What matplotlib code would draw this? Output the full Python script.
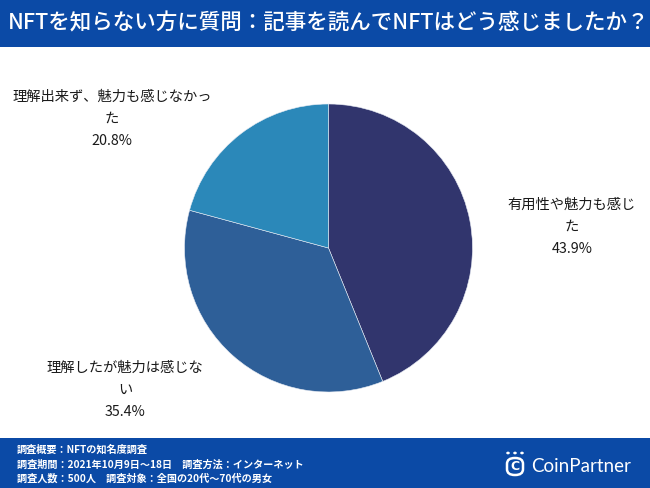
import matplotlib.pyplot as plt
from matplotlib.patches import Rectangle, FancyBboxPatch, Circle

plt.rcParams['font.family'] = ['Noto Sans CJK JP', 'DejaVu Sans']

title = "NFTを知らない方に質問：記事を読んでNFTはどう感じましたか？"
labels = ["有用性や魅力も感じ\nた", "理解したが魅力は感じな\nい", "理解出来ず、魅力も感じなかっ\nた"]
values = [43.9, 35.4, 20.8]
colors = ["#31356d", "#2e5f98", "#2b88b9"]
footer_lines = [
    "調査概要：NFTの知名度調査",
    "調査期間：2021年10月9日～18日　調査方法：インターネット",
    "調査人数：500人　調査対象：全国の20代～70代の男女",
]
banner_color = "#0b4aa6"

W, H = 650, 488
fig = plt.figure(figsize=(W / 100, H / 100), dpi=100)
fig.patch.set_facecolor("white")

# banners
fig.patches.append(Rectangle((0, 1 - 47 / H), 1, 47 / H, transform=fig.transFigure,
                             facecolor=banner_color, edgecolor="none", zorder=0))
fig.patches.append(Rectangle((0, 0), 1, 50 / H, transform=fig.transFigure,
                             facecolor=banner_color, edgecolor="none", zorder=0))
fig.text(8 / W, 1 - 23 / H, title, color="white", fontsize=15.5, fontweight="medium",
         ha="left", va="center")

# pie
cx, cy, r = 328.5, 248, 144
ax = fig.add_axes([(cx - r) / W, (H - cy - r) / H, 2 * r / W, 2 * r / H])
ax.pie(values, colors=colors, startangle=90, counterclock=False,
       wedgeprops=dict(linewidth=0.4, edgecolor="#e8ecf4"))
ax.set_xlim(-1, 1)
ax.set_ylim(-1, 1)
ax.set_aspect("equal")
ax.axis("off")

# data labels (pixel positions of label centres)
label_pos = [(572, 227), (125, 390), (112, 119)]
for lab, val, (lx, ly) in zip(labels, values, label_pos):
    fig.text(lx / W, 1 - ly / H, f"{lab}\n{val:.1f}%", fontsize=10.3, color="#1a1a1a",
             ha="center", va="center", linespacing=1.72, multialignment="center")

# footer text
for i, line in enumerate(footer_lines):
    fig.text(17 / W, (H - 450 - i * 14.5) / H, line, color="white", fontsize=7.3,
             fontweight="bold", ha="left", va="center")

# logo
fig.text(531 / W, (H - 466) / H, "CoinPartner", color="white", fontsize=13.5,
         family=["Lato", "DejaVu Sans"], ha="left", va="center")
fig.patches.append(FancyBboxPatch((507 / W, (H - 475) / H), 16 / W, 17 / H,
                                  boxstyle="round,pad=0,rounding_size=0.012",
                                  transform=fig.transFigure, facecolor="none",
                                  edgecolor="white", linewidth=1.8))
fig.text(515 / W, (H - 466.5) / H, "C", color="white", fontsize=9, fontweight="bold",
         family=["DejaVu Sans"], ha="center", va="center")
for dx in (508, 515, 522):
    fig.patches.append(Circle((dx / W, (H - 453) / H), 1.8 / W, transform=fig.transFigure,
                              facecolor="white", edgecolor="none"))

fig.savefig("out.png", dpi=100, facecolor=fig.get_facecolor())
